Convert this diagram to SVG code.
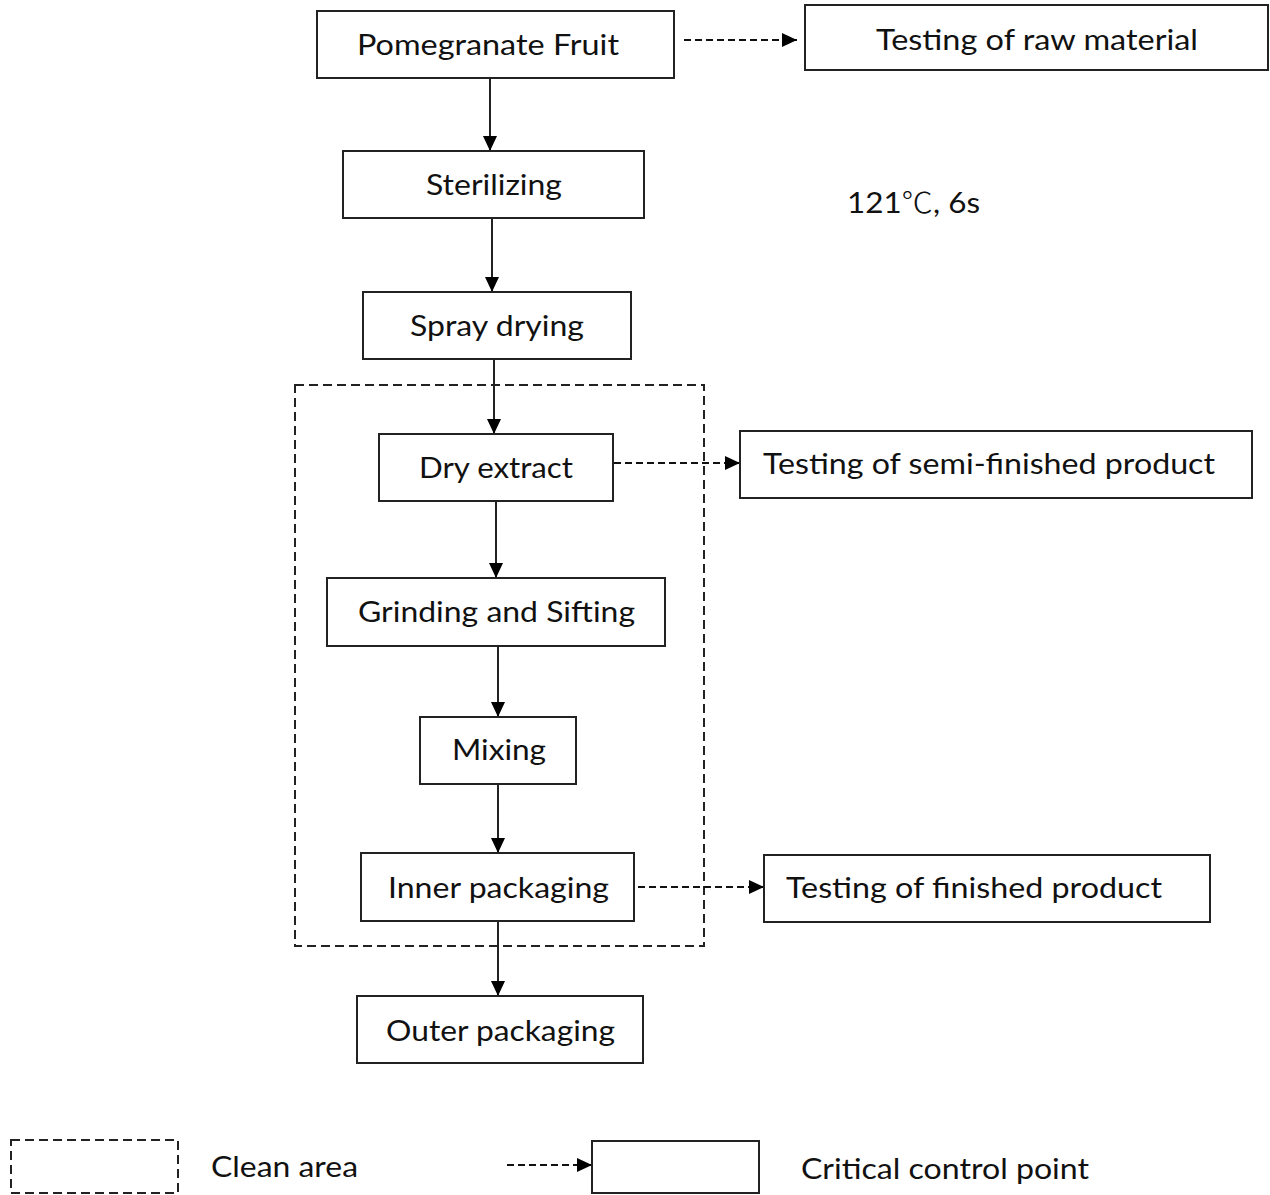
<svg xmlns="http://www.w3.org/2000/svg" width="1270" height="1195" viewBox="0 0 1270 1195">
<style>
.box{fill:#fff;stroke:#222;stroke-width:2}
.t{font-family:Lato,"Noto Sans","Noto Sans CJK SC",sans-serif;font-size:28px;fill:#111;text-anchor:middle}
.ts{font-family:Lato,"Noto Sans","Noto Sans CJK SC",sans-serif;font-size:28px;fill:#111}
.cjk{font-family:"Noto Sans CJK SC",sans-serif;font-weight:300}
.solid{stroke:#222;stroke-width:2;fill:none}
.dash{stroke:#111;stroke-width:2;fill:none;stroke-dasharray:7 4}
.area{stroke:#222;stroke-width:2;fill:none;stroke-dasharray:9 5}
</style>
<defs>
<marker id="ah" markerUnits="userSpaceOnUse" markerWidth="16" markerHeight="16" viewBox="0 0 16 16" refX="15" refY="8" orient="auto">
<path d="M0,1 L15,8 L0,15 Z" fill="#000"/>
</marker>
</defs>
<rect class="bg" x="0" y="0" width="1270" height="1195" fill="#fff"/>

<g id="clean-area">
<rect class="area" x="295" y="385" width="409" height="561"/>
</g>

<g id="connectors">
<line class="solid" x1="490" y1="78" x2="490" y2="151" marker-end="url(#ah)"/>
<line class="solid" x1="492" y1="218" x2="492" y2="292" marker-end="url(#ah)"/>
<line class="solid" x1="494" y1="359" x2="494" y2="434" marker-end="url(#ah)"/>
<line class="solid" x1="496" y1="501" x2="496" y2="578" marker-end="url(#ah)"/>
<line class="solid" x1="498" y1="646" x2="498" y2="717" marker-end="url(#ah)"/>
<line class="solid" x1="498" y1="784" x2="498" y2="853" marker-end="url(#ah)"/>
<line class="solid" x1="498" y1="921" x2="498" y2="996" marker-end="url(#ah)"/>
<line class="dash" x1="684" y1="40" x2="797" y2="40" marker-end="url(#ah)"/>
<line class="dash" x1="614" y1="463" x2="740" y2="463" marker-end="url(#ah)"/>
<line class="dash" x1="638" y1="887" x2="764" y2="887" marker-end="url(#ah)"/>
</g>

<g id="n-pomegranate">
<rect class="box" x="317" y="11" width="357" height="67"/>
<text class="t" x="488" y="55" textLength="262" lengthAdjust="spacingAndGlyphs">Pomegranate Fruit</text>
</g>
<g id="n-test-raw">
<rect class="box" x="805" y="5" width="463" height="65"/>
<text class="t" x="1037" y="50" textLength="322" lengthAdjust="spacingAndGlyphs">Testing of raw material</text>
</g>
<g id="n-sterilizing">
<rect class="box" x="343" y="151" width="301" height="67"/>
<text class="t" x="494" y="195" textLength="136" lengthAdjust="spacingAndGlyphs">Sterilizing</text>
</g>
<g id="n-cond">
<text class="ts" x="847" y="213" textLength="133" lengthAdjust="spacingAndGlyphs">121<tspan class="cjk">℃</tspan>, 6s</text>
</g>
<g id="n-spray">
<rect class="box" x="363" y="292" width="268" height="67"/>
<text class="t" x="497" y="336" textLength="174" lengthAdjust="spacingAndGlyphs">Spray drying</text>
</g>
<g id="n-dry">
<rect class="box" x="379" y="434" width="234" height="67"/>
<text class="t" x="496" y="478" textLength="154" lengthAdjust="spacingAndGlyphs">Dry extract</text>
</g>
<g id="n-test-semi">
<rect class="box" x="740" y="431" width="512" height="67"/>
<text class="t" x="989" y="474" textLength="452" lengthAdjust="spacingAndGlyphs">Testing of semi-finished product</text>
</g>
<g id="n-grinding">
<rect class="box" x="327" y="578" width="338" height="68"/>
<text class="t" x="496.5" y="622" textLength="277" lengthAdjust="spacingAndGlyphs">Grinding and Sifting</text>
</g>
<g id="n-mixing">
<rect class="box" x="420" y="717" width="156" height="67"/>
<text class="t" x="499" y="760" textLength="94" lengthAdjust="spacingAndGlyphs">Mixing</text>
</g>
<g id="n-inner">
<rect class="box" x="361" y="853" width="273" height="68"/>
<text class="t" x="498.5" y="898" textLength="221" lengthAdjust="spacingAndGlyphs">Inner packaging</text>
</g>
<g id="n-test-finished">
<rect class="box" x="764" y="855" width="446" height="67"/>
<text class="t" x="974" y="898" textLength="376" lengthAdjust="spacingAndGlyphs">Testing of finished product</text>
</g>
<g id="n-outer">
<rect class="box" x="357" y="996" width="286" height="67"/>
<text class="t" x="500.5" y="1041" textLength="229" lengthAdjust="spacingAndGlyphs">Outer packaging</text>
</g>

<g id="legend">
<rect class="area" x="11" y="1140" width="167" height="53" stroke="#444"/>
<text class="ts" x="211" y="1177" textLength="147" lengthAdjust="spacingAndGlyphs">Clean area</text>
<line class="dash" x1="507" y1="1165" x2="592" y2="1165" marker-end="url(#ah)"/>
<rect class="box" x="592" y="1141" width="167" height="52"/>
<text class="ts" x="801" y="1179" textLength="288" lengthAdjust="spacingAndGlyphs">Critical control point</text>
</g>
</svg>
